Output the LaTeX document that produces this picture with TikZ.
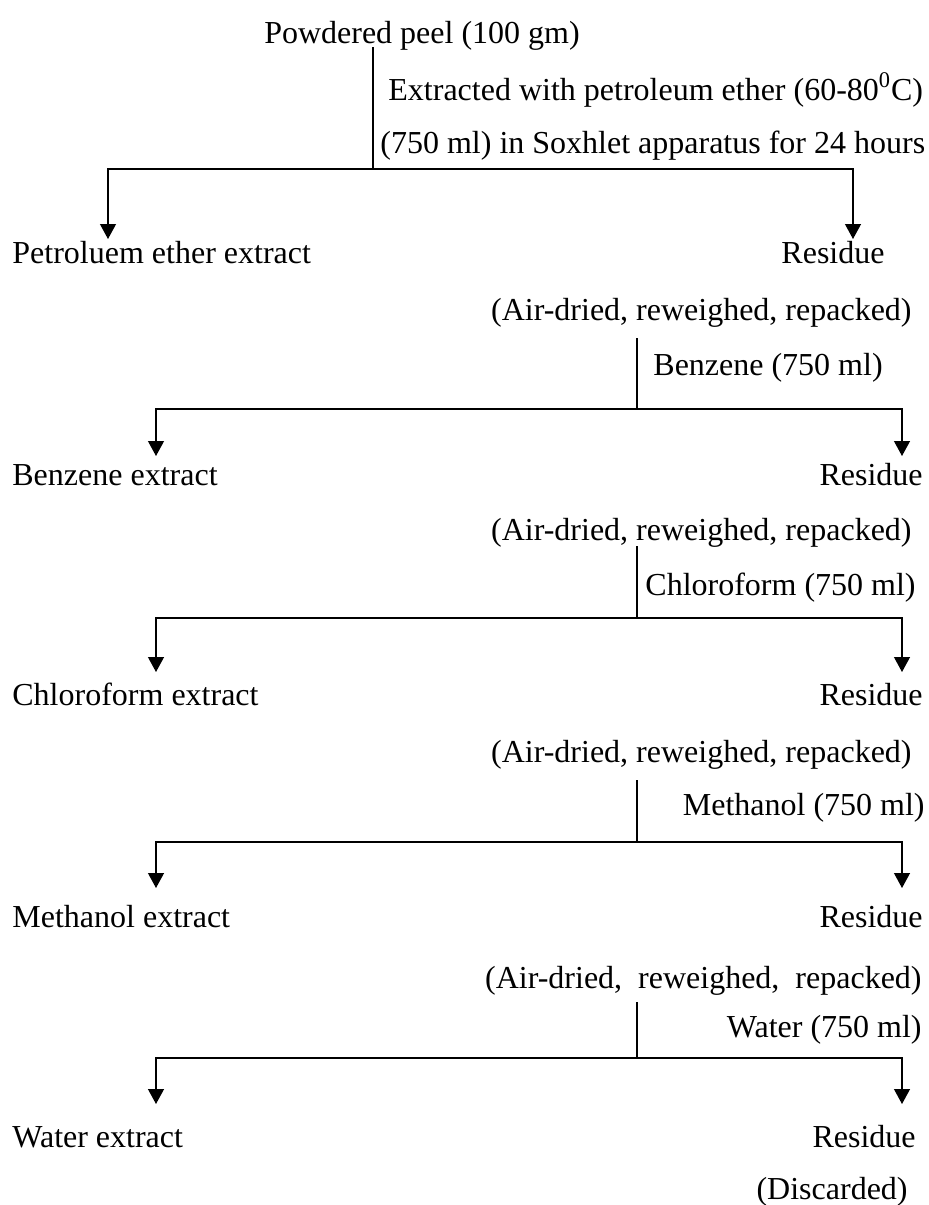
\documentclass[tikz,border=0pt]{standalone}
\usepackage{fontspec}
\setmainfont{Liberation Serif}
\usetikzlibrary{arrows.meta}
\begin{document}
\begin{tikzpicture}[x=0.5pt,y=-0.5pt,
  txt/.style={inner sep=0pt,text height=0.7em,text depth=0.2em,
    yshift=-2.5pt,font=\fontsize{16}{19}\selectfont},
  lbl/.style={txt,anchor=west},
  rlbl/.style={txt,anchor=east},
  wire/.style={line width=0.6pt},
  arr/.style={line width=0.6pt,-{Triangle[length=7.5pt,width=8pt]}}]
\useasboundingbox (0,0) rectangle (929,1205);

% labels
\node[txt] (peel) at (422,33) {Powdered peel (100 gm)};
\node[lbl] (ext1) at (388,90) {Extracted with petroleum ether (60-80\textsuperscript{0}C)};
\node[lbl] (ext2) at (380,143) {(750 ml) in Soxhlet apparatus for 24 hours};
\node[lbl] (pet) at (12,253) {Petroluem ether extract};
\node[txt] (res1) at (833,253) {Residue};
\node[rlbl] (ad1) at (912,310) {(Air-dried, reweighed, repacked)};
\node[lbl] (benz) at (653,365) {Benzene (750 ml)};
\node[lbl] (bext) at (12,475) {Benzene extract};
\node[rlbl] (res2) at (923,475) {Residue};
\node[rlbl] (ad2) at (912,530) {(Air-dried, reweighed, repacked)};
\node[lbl] (chl) at (645,585) {Chloroform (750 ml)};
\node[lbl] (cext) at (12,695) {Chloroform extract};
\node[rlbl] (res3) at (923,695) {Residue};
\node[rlbl] (ad3) at (912,752) {(Air-dried, reweighed, repacked)};
\node[rlbl] (meth) at (925,805) {Methanol (750 ml)};
\node[lbl] (mext) at (12,917) {Methanol extract};
\node[rlbl] (res4) at (923,917) {Residue};
\node[rlbl] (ad4) at (922,978) {(Air-dried,\ \ reweighed,\ \ repacked)};
\node[rlbl] (wat) at (922,1027) {Water (750 ml)};
\node[lbl] (wext) at (12,1137) {Water extract};
\node[rlbl] (res5) at (916,1137) {Residue};
\node[rlbl] (disc) at (908,1189) {(Discarded)};

% stems, junctions and arrow tips
\coordinate (j1) at (373,169);
\coordinate (t1l) at (108,239);
\coordinate (t1r) at (853,239);
\coordinate (s2) at (637,338);
\coordinate (j2) at (637,409);
\coordinate (t2l) at (156,456);
\coordinate (t2r) at (902,456);
\coordinate (s3) at (637,546);
\coordinate (j3) at (637,618);
\coordinate (t3l) at (156,672);
\coordinate (t3r) at (902,672);
\coordinate (s4) at (637,780);
\coordinate (j4) at (637,842);
\coordinate (t4l) at (156,888);
\coordinate (t4r) at (902,888);
\coordinate (s5) at (637,1002);
\coordinate (j5) at (637,1058);
\coordinate (t5l) at (156,1104);
\coordinate (t5r) at (902,1104);

\draw[wire] (peel.south -| j1) -- (j1);
\draw[arr] (j1) -| (t1l);
\draw[arr] (j1) -| (t1r);

\draw[wire] (s2) -- (j2);
\draw[arr] (j2) -| (t2l);
\draw[arr] (j2) -| (t2r);

\draw[wire] (s3) -- (j3);
\draw[arr] (j3) -| (t3l);
\draw[arr] (j3) -| (t3r);

\draw[wire] (s4) -- (j4);
\draw[arr] (j4) -| (t4l);
\draw[arr] (j4) -| (t4r);

\draw[wire] (s5) -- (j5);
\draw[arr] (j5) -| (t5l);
\draw[arr] (j5) -| (t5r);
\end{tikzpicture}
\end{document}
